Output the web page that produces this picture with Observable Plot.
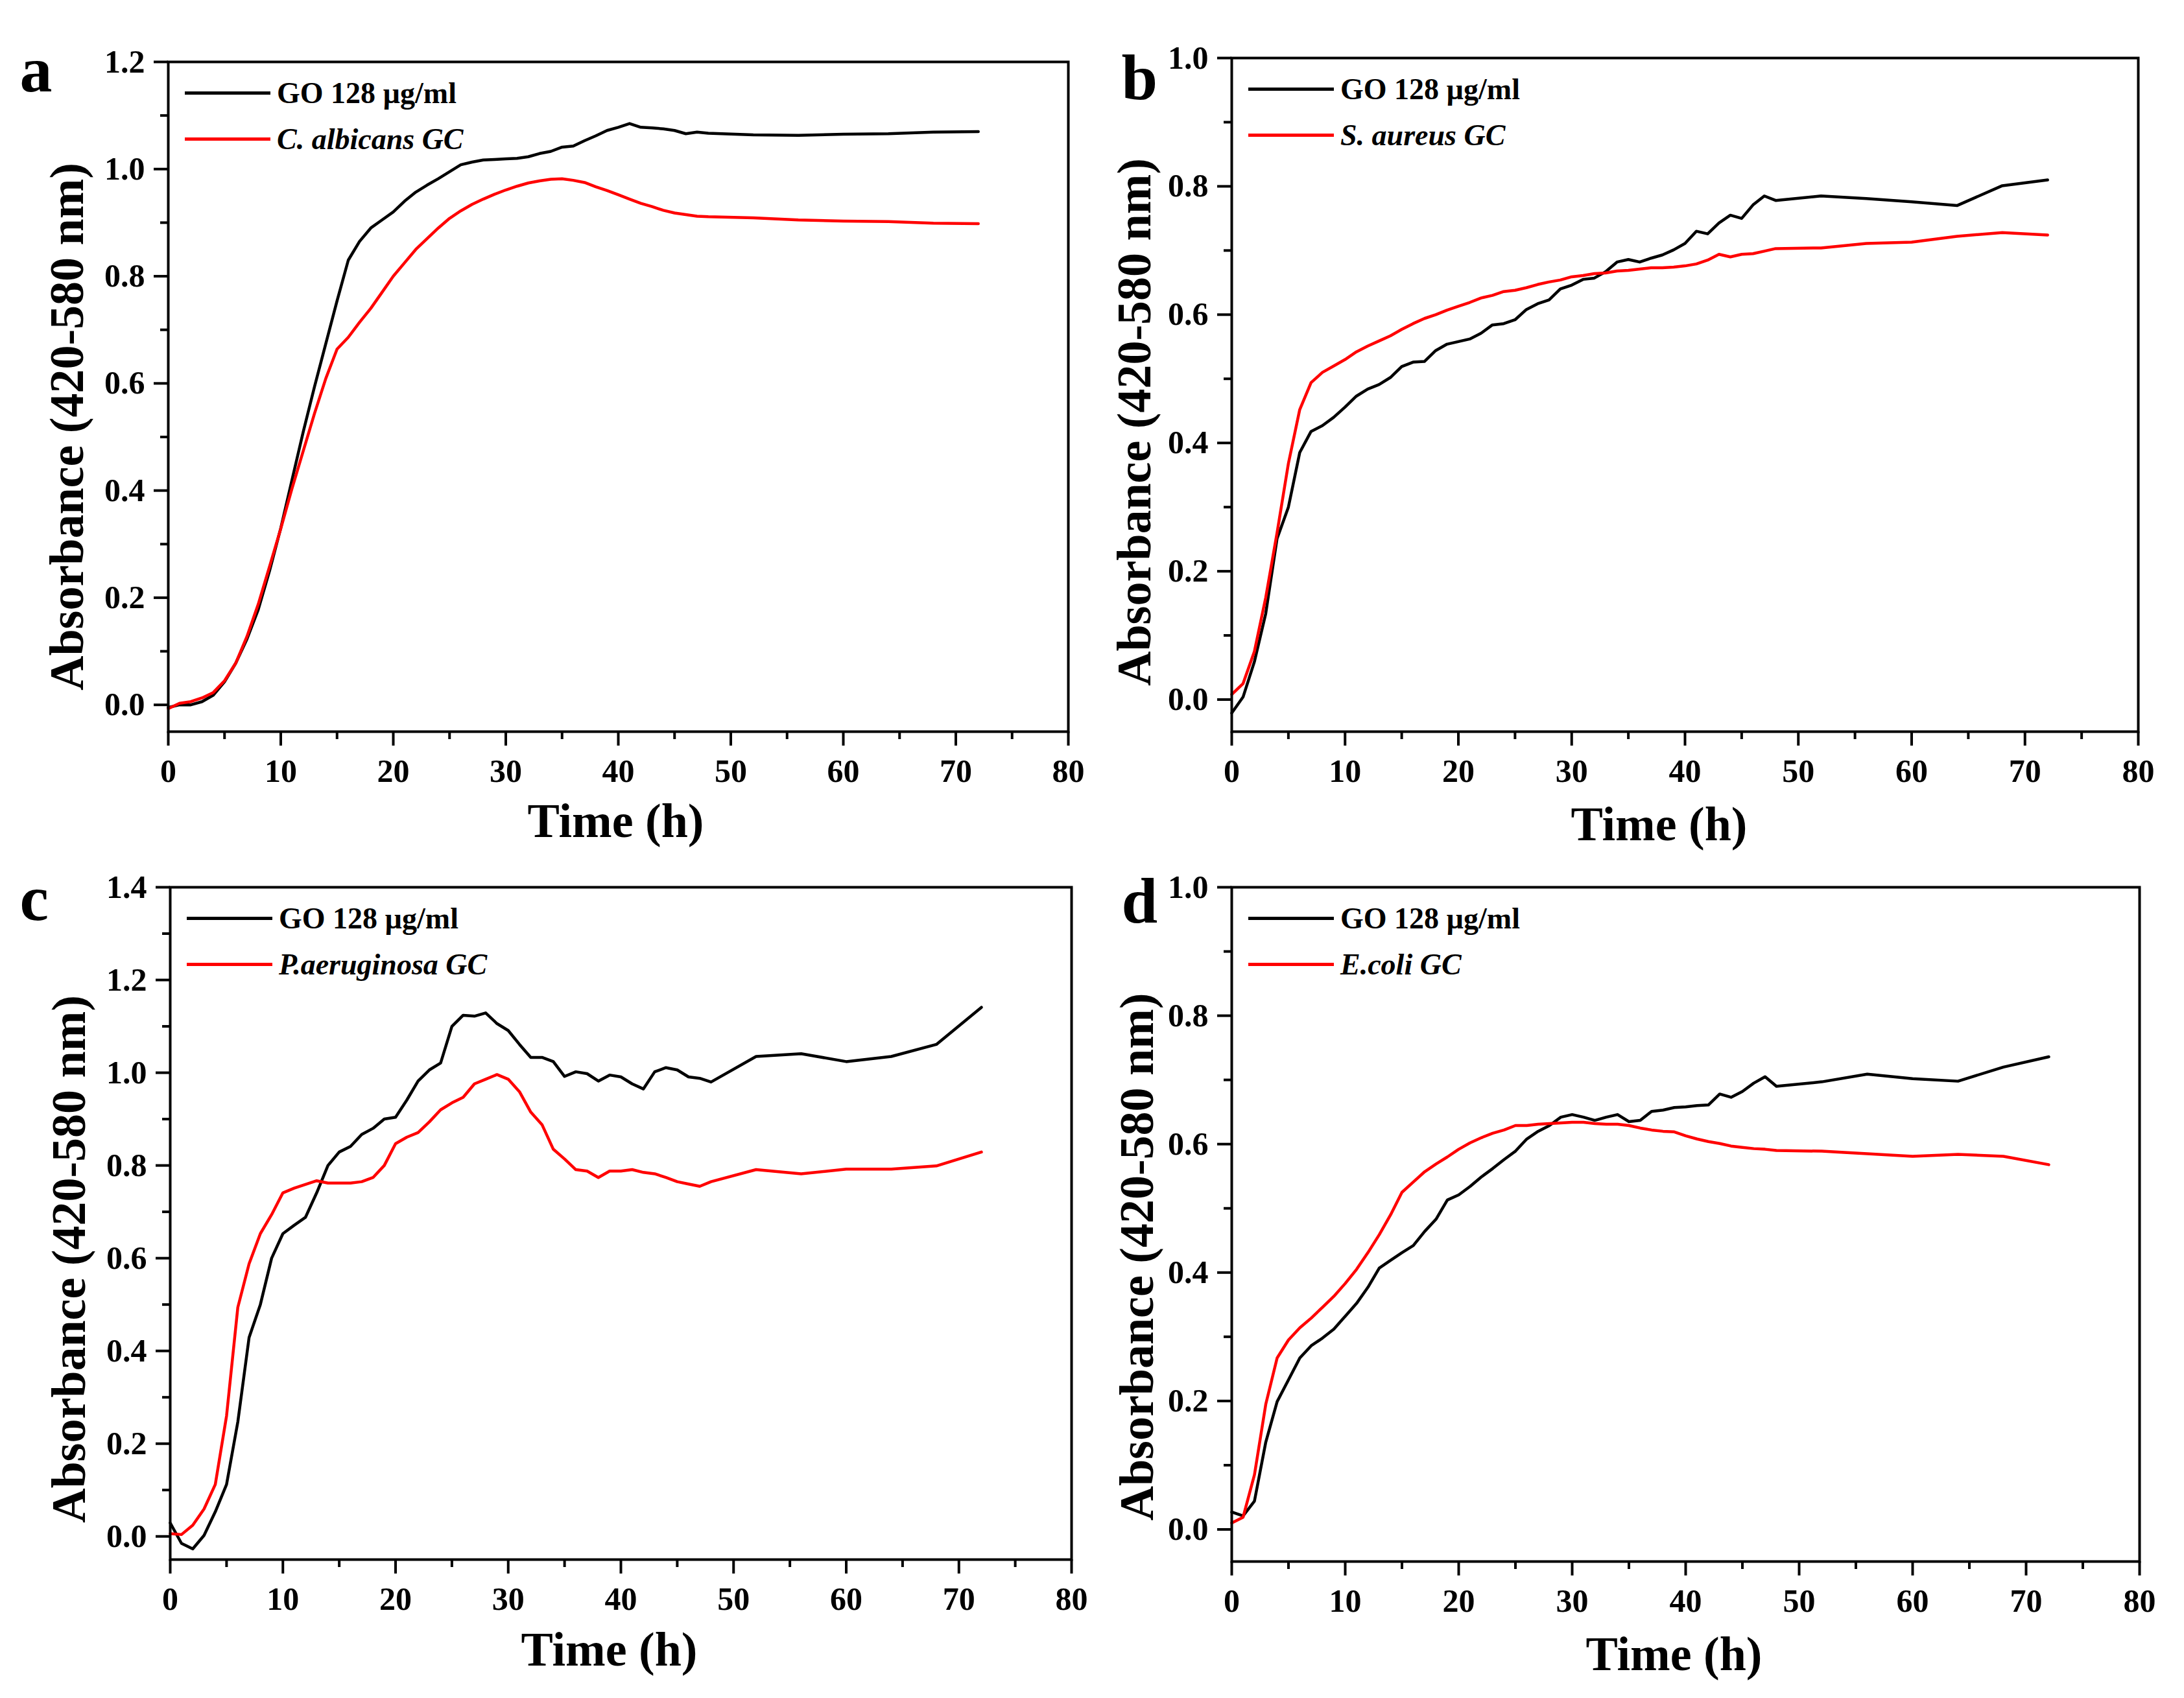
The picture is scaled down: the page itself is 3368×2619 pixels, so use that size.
<!DOCTYPE html>
<html><head><meta charset="utf-8">
<script src="https://cdn.jsdelivr.net/npm/d3@7"></script>
<script src="https://cdn.jsdelivr.net/npm/@observablehq/plot@0.6"></script>
<style>
html,body{margin:0;padding:0;background:#fff;}
#root{position:relative;width:3368px;height:2619px;background:#fff;overflow:hidden;font-family:'Liberation Serif','Times New Roman',serif;}
.panel{position:absolute;}
.panel svg{max-width:none !important;background:transparent;}
.lg-row{position:absolute;display:flex;align-items:center;white-space:nowrap;height:60px;font-family:'Liberation Serif','Times New Roman',serif;font-weight:bold;font-size:46px;color:#000;}
.lg-line{width:132px;height:0;border-top:5px solid #000;margin-right:10px;}
</style></head><body><div id="root"></div>
<script>
// ---- data ----
const time = [0,1,2,3,4,5,6,7,8,9,10,11,12,13,14,15,16,17,18,19,20,21,22,23,24,25,26,27,28,29,30,31,32,33,34,35,36,37,38,39,40,41,42,43,44,45,46,47,48,52,56,60,64,68,72];

const aGO = [-0.005,0.0,0.0,0.006,0.018,0.043,0.078,0.123,0.178,0.25,0.33,0.42,0.51,0.594,0.674,0.754,0.83,0.865,0.89,0.905,0.92,0.94,0.957,0.97,0.982,0.995,1.008,1.013,1.017,1.018,1.019,1.02,1.023,1.029,1.033,1.041,1.043,1.053,1.062,1.072,1.078,1.085,1.078,1.077,1.075,1.072,1.066,1.069,1.067,1.064,1.063,1.065,1.066,1.069,1.07];
const aGC = [-0.007,0.003,0.006,0.013,0.023,0.045,0.078,0.128,0.188,0.258,0.329,0.404,0.474,0.544,0.609,0.664,0.686,0.714,0.74,0.77,0.80,0.825,0.85,0.87,0.89,0.908,0.922,0.934,0.944,0.953,0.961,0.968,0.974,0.978,0.981,0.982,0.979,0.975,0.967,0.96,0.952,0.944,0.936,0.93,0.923,0.918,0.915,0.912,0.911,0.909,0.905,0.903,0.902,0.899,0.898];

const bGO = [-0.021,0.004,0.059,0.134,0.251,0.30,0.385,0.418,0.427,0.44,0.456,0.473,0.484,0.491,0.502,0.519,0.526,0.527,0.544,0.554,0.558,0.562,0.571,0.584,0.586,0.592,0.608,0.617,0.623,0.64,0.646,0.655,0.657,0.667,0.682,0.686,0.682,0.688,0.693,0.701,0.711,0.73,0.726,0.743,0.755,0.75,0.771,0.785,0.778,0.785,0.781,0.776,0.77,0.801,0.81];
const bGC = [0.008,0.025,0.075,0.159,0.26,0.368,0.452,0.494,0.51,0.52,0.53,0.542,0.551,0.559,0.567,0.577,0.586,0.594,0.6,0.607,0.613,0.619,0.626,0.63,0.636,0.638,0.642,0.647,0.651,0.654,0.659,0.661,0.664,0.665,0.668,0.669,0.671,0.673,0.673,0.674,0.676,0.679,0.685,0.694,0.69,0.694,0.695,0.699,0.703,0.704,0.711,0.713,0.722,0.728,0.724];

const cGO = [0.029,-0.015,-0.027,0.002,0.053,0.112,0.247,0.429,0.5,0.6,0.653,0.671,0.688,0.741,0.8,0.829,0.841,0.867,0.88,0.9,0.904,0.941,0.982,1.006,1.021,1.1,1.124,1.122,1.129,1.106,1.091,1.061,1.033,1.033,1.024,0.992,1.002,0.998,0.982,0.995,0.991,0.976,0.965,1.002,1.011,1.006,0.991,0.988,0.98,1.035,1.041,1.024,1.035,1.061,1.141];
const cGC = [0.006,0.004,0.024,0.059,0.112,0.26,0.494,0.588,0.653,0.694,0.741,0.751,0.759,0.767,0.762,0.762,0.762,0.765,0.774,0.8,0.847,0.861,0.871,0.894,0.92,0.935,0.947,0.976,0.986,0.996,0.986,0.959,0.915,0.888,0.835,0.814,0.791,0.788,0.774,0.788,0.788,0.791,0.785,0.782,0.774,0.765,0.76,0.755,0.765,0.791,0.782,0.792,0.792,0.799,0.829];

const dGO = [0.027,0.021,0.044,0.136,0.199,0.233,0.267,0.286,0.298,0.312,0.332,0.352,0.377,0.407,0.419,0.431,0.442,0.464,0.483,0.513,0.521,0.534,0.549,0.562,0.576,0.589,0.608,0.62,0.629,0.642,0.646,0.642,0.637,0.642,0.646,0.635,0.637,0.651,0.653,0.657,0.658,0.66,0.661,0.678,0.673,0.682,0.695,0.705,0.69,0.697,0.709,0.702,0.698,0.72,0.736];
const dGC = [0.01,0.019,0.085,0.195,0.267,0.295,0.314,0.329,0.346,0.363,0.383,0.405,0.431,0.459,0.49,0.525,0.541,0.557,0.569,0.58,0.592,0.602,0.61,0.617,0.622,0.629,0.629,0.631,0.632,0.633,0.634,0.634,0.632,0.631,0.631,0.629,0.625,0.622,0.62,0.619,0.613,0.608,0.604,0.601,0.597,0.595,0.593,0.592,0.59,0.589,0.585,0.581,0.584,0.581,0.568];

const xTicks = [0,10,20,30,40,50,60,70,80];
const xMinor = [5,15,25,35,45,55,65,75];
const yTicks12 = [0,0.2,0.4,0.6,0.8,1.0,1.2];
const yMinor12 = [0.1,0.3,0.5,0.7,0.9,1.1];
const yTicks10 = [0,0.2,0.4,0.6,0.8,1.0];
const yMinor10 = [0.1,0.3,0.5,0.7,0.9];
const yTicks14 = [0,0.2,0.4,0.6,0.8,1.0,1.2,1.4];
const yMinor14 = [0.1,0.3,0.5,0.7,0.9,1.1,1.3];

const goLabel = "GO 128 µg/ml";
const gcLabels = ["C. albicans GC","S. aureus GC","P.aeruginosa GC","E.coli GC"];
const letters = ["a","b","c","d"];
const xTitle = "Time (h)";
const yTitle = "Absorbance (420-580 nm)";

// ---- layout ----
const panels = [
  {go:aGO, gc:aGC, yDomain:[-0.05,1.2], yT:yTicks12, yM:yMinor12, left:0,   top:0,    w:1700, h:1300, mL:259, mT:95, mR:53, mB:172, xtDx:-4,  xtDy:139, ytDx:-155, ytDy:46, lDx:-229, lDy:45},
  {go:bGO, gc:bGC, yDomain:[-0.05,1.0], yT:yTicks10, yM:yMinor10, left:1700,top:0,    w:1668, h:1300, mL:199, mT:89, mR:71, mB:172, xtDx:-40, xtDy:144, ytDx:-149, ytDy:42, lDx:-170, lDy:63},
  {go:cGO, gc:cGC, yDomain:[-0.05,1.4], yT:yTicks14, yM:yMinor14, left:0,   top:1300, w:1700, h:1319, mL:262, mT:68, mR:48, mB:214, xtDx:-18, xtDy:140, ytDx:-155, ytDy:55, lDx:-232, lDy:50},
  {go:dGO, gc:dGC, yDomain:[-0.05,1.0], yT:yTicks10, yM:yMinor10, left:1700,top:1300, w:1668, h:1319, mL:199, mT:68, mR:69, mB:211, xtDx:-18, xtDy:144, ytDx:-145, ytDy:50, lDx:-170, lDy:54}
];

const root = document.getElementById("root");
const font = "'Liberation Serif','Times New Roman',serif";

panels.forEach((p, k) => {
  const rowsGO = time.map((t, i) => ({t, v: p.go[i]}));
  const rowsGC = time.map((t, i) => ({t, v: p.gc[i]}));
  const chart = Plot.plot({
    width: p.w, height: p.h,
    marginLeft: p.mL, marginTop: p.mT, marginRight: p.mR, marginBottom: p.mB,
    x: {domain: [0, 80]},
    y: {domain: p.yDomain},
    style: {fontFamily: font, fontSize: "50px", fontWeight: "bold", color: "#000", background: "transparent", overflow: "visible"},
    marks: [
      Plot.line(rowsGO, {x: "t", y: "v", stroke: "#000000", strokeWidth: 4.5}),
      Plot.line(rowsGC, {x: "t", y: "v", stroke: "#ff0000", strokeWidth: 4.5}),
      Plot.axisX({ticks: xTicks, tickSize: 22, tickPadding: 20, strokeWidth: 4, label: null, fontSize: 50, fontWeight: "bold", tickFormat: d => String(d)}),
      Plot.axisX({ticks: xMinor, tickSize: 12, strokeWidth: 4, label: null, tickFormat: () => ""}),
      Plot.axisY({ticks: p.yT, tickSize: 22, tickPadding: 14, strokeWidth: 4, label: null, fontSize: 50, fontWeight: "bold", tickFormat: d => d.toFixed(1)}),
      Plot.axisY({ticks: p.yM, tickSize: 12, strokeWidth: 4, label: null, tickFormat: () => ""}),
      Plot.frame({stroke: "#000", strokeWidth: 4}),
      Plot.text([xTitle], {text: d => d, frameAnchor: "bottom", dx: p.xtDx, dy: p.xtDy, textAnchor: "middle", lineAnchor: "middle", fontSize: 74, fontWeight: "bold", fill: "#000"}),
      Plot.text([yTitle], {text: d => d, frameAnchor: "left", rotate: -90, dx: p.ytDx, dy: p.ytDy, textAnchor: "middle", lineAnchor: "middle", fontSize: 74, fontWeight: "bold", fill: "#000"}),
      Plot.text([letters[k]], {text: d => d, frameAnchor: "top-left", dx: p.lDx, dy: p.lDy, textAnchor: "start", lineAnchor: "bottom", fontSize: 100, fontWeight: "bold", fill: "#000"})
    ]
  });
  const div = document.createElement("div");
  div.className = "panel";
  div.style.left = p.left + "px";
  div.style.top = p.top + "px";
  div.style.width = p.w + "px";
  div.style.height = p.h + "px";
  div.appendChild(chart);
  root.appendChild(div);

  // legend
  const items = [{label: goLabel, color: "#000", italic: false}, {label: gcLabels[k], color: "#ff0000", italic: true}];
  items.forEach((it, j) => {
    const row = document.createElement("div");
    row.className = "lg-row";
    row.style.left = (p.left + p.mL + 26) + "px";
    row.style.top = (p.top + p.mT + 48 + j * 71 - 30) + "px";
    const line = document.createElement("span");
    line.className = "lg-line";
    line.style.borderTopColor = it.color;
    const txt = document.createElement("span");
    txt.textContent = it.label;
    if (it.italic) txt.style.fontStyle = "italic";
    row.appendChild(line);
    row.appendChild(txt);
    root.appendChild(row);
  });
});
</script>
</body></html>
